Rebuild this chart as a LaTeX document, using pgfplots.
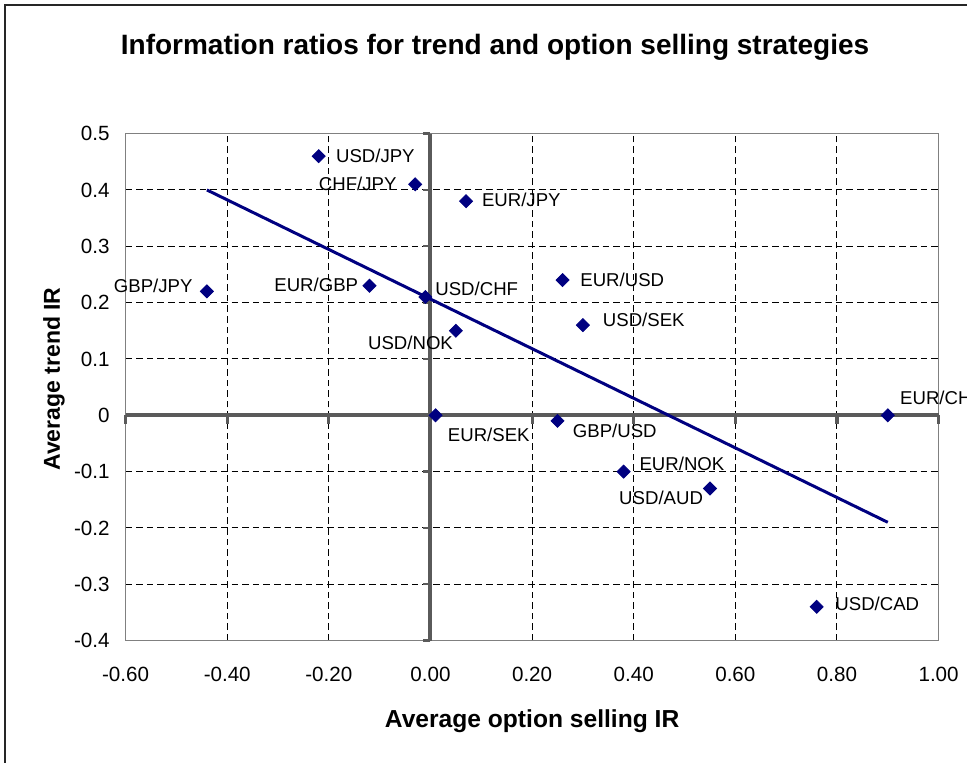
\documentclass[border=0pt]{standalone}
\usepackage{pgfplots}
\pgfplotsset{compat=1.18}
\usepackage{fontspec}
\setmainfont{Liberation Sans}

\definecolor{navy}{RGB}{0,0,128}
\definecolor{zeroaxis}{RGB}{90,90,90}
\definecolor{framegray}{RGB}{128,128,128}

% one currency pair per plot: anchor of its label, shift in pt
\pgfplotsset{
  pair/.style n args={3}{only marks, navy, mark=square*, mark size=2.3pt,
    mark options={rotate=45, fill=navy, draw=navy},
    point meta=explicit symbolic, nodes near coords,
    nodes near coords style={font=\fontsize{9.3}{11}\selectfont, text=black,
      inner sep=0pt, anchor=#1, xshift=#2pt, yshift=#3pt}},
}

\begin{document}
\begin{tikzpicture}
\useasboundingbox (-62.8pt,-60.7pt) rectangle (420.7pt,320.3pt);
\draw[line width=0.8pt, black!85] (-60.3pt,-90pt) rectangle (440pt,317.8pt);
\begin{axis}[
  scale only axis,
  width=406.5pt, height=253.5pt,
  xmin=-0.6, xmax=1.0, ymin=-0.4, ymax=0.5,
  xtick={-0.6,-0.4,-0.2,0,0.2,0.4,0.6,0.8,1.0},
  ytick={-0.4,-0.3,-0.2,-0.1,0,0.1,0.2,0.3,0.4,0.5},
  major tick length=0pt,
  clip=false,
  axis line style={framegray, line width=0.8pt},
  grid=major,
  major grid style={black, line width=0.5pt, dash pattern=on 3.3pt off 2pt},
  /pgf/number format/assume math mode=true,
  xticklabel style={font=\fontsize{10.3}{12}\selectfont, anchor=base, inner sep=0pt, yshift=-20.5pt,
    /pgf/number format/.cd, fixed, fixed zerofill, precision=2},
  yticklabel style={font=\fontsize{10.3}{12}\selectfont, anchor=east, inner sep=0pt, xshift=-7.8pt,
    /pgf/number format/.cd, fixed, precision=1},
  title={Information ratios for trend and option selling strategies},
  every axis title/.style={at={(axis description cs:0.4544,1.157)}, anchor=base,
    font=\fontsize{14}{16}\selectfont\bfseries},
  xlabel={Average option selling IR},
  every axis x label/.style={at={(axis description cs:0.5,-0.1704)}, anchor=base,
    font=\fontsize{12.3}{14}\selectfont\bfseries},
  ylabel={Average trend IR},
  every axis y label/.style={at={(axis description cs:-0.0807,0.516)}, anchor=base, rotate=90,
    font=\fontsize{11.5}{14}\selectfont\bfseries},
]
% zero lines with their small ticks
\draw[zeroaxis, line width=2pt] (axis cs:-0.6,0) -- (axis cs:1,0);
\draw[zeroaxis, line width=2pt] (axis cs:0,-0.4) -- (axis cs:0,0.5);
\pgfplotsinvokeforeach{-0.6,-0.4,-0.2,0,0.2,0.4,0.6,0.8,1}{
  \draw[zeroaxis, line width=1.6pt] (axis cs:#1,0) -- ++(0pt,-4.5pt);
}
\pgfplotsinvokeforeach{-0.4,-0.3,-0.2,-0.1,0.1,0.2,0.3,0.4,0.5}{
  \draw[zeroaxis, line width=1.2pt] (axis cs:0,#1) -- ++(-3.5pt,0pt);
}

% linear trend
\addplot[navy, line width=1.5pt] coordinates {(-0.44,0.40) (0.90,-0.19)};

\addplot[pair={west}{8.5}{0}]    coordinates {(-0.22,0.46) [USD/JPY]};
\addplot[pair={east}{-9.2}{0}]   coordinates {(-0.03,0.41) [CHF/JPY]};
\addplot[pair={west}{7.8}{0.5}]  coordinates {(0.07,0.38) [EUR/JPY]};
\addplot[pair={east}{-7}{2.5}]   coordinates {(-0.44,0.22) [GBP/JPY]};
\addplot[pair={east}{-5.5}{0.3}] coordinates {(-0.12,0.23) [EUR/GBP]};
\addplot[pair={west}{4.8}{4.2}]  coordinates {(-0.01,0.21) [USD/CHF]};
\addplot[pair={east}{-1.3}{-5.8}] coordinates {(0.05,0.15) [USD/NOK]};
\addplot[pair={west}{8.7}{0.3}]  coordinates {(0.26,0.24) [EUR/USD]};
\addplot[pair={west}{9.8}{2.8}]  coordinates {(0.30,0.16) [USD/SEK]};
\addplot[pair={west}{6}{-10}]    coordinates {(0.01,0.00) [EUR/SEK]};
\addplot[pair={west}{7.5}{-5}]   coordinates {(0.25,-0.01) [GBP/USD]};
\addplot[pair={west}{7.8}{3.8}]  coordinates {(0.38,-0.10) [EUR/NOK]};
\addplot[pair={east}{-3.3}{-4.5}] coordinates {(0.55,-0.13) [USD/AUD]};
\addplot[pair={west}{9.2}{1.3}]  coordinates {(0.76,-0.34) [USD/CAD]};
\addplot[pair={west}{6}{8.7}]    coordinates {(0.90,0.00) [EUR/CHF]};
\end{axis}
\end{tikzpicture}
\end{document}
